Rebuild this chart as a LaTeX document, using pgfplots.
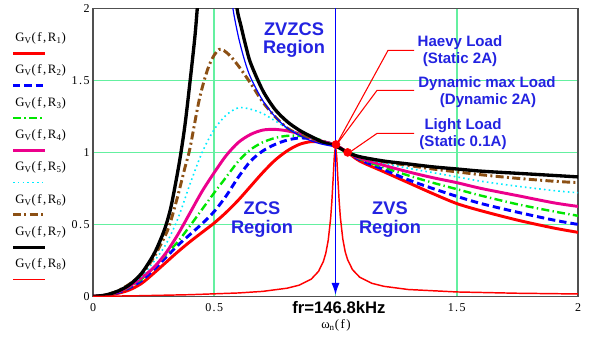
\documentclass[border=0pt]{standalone}
\usepackage{fontspec}
\setmainfont{Liberation Serif}
\setsansfont{Liberation Sans}
\newfontfamily\legfont{Liberation Serif}[LetterSpace=12]
\usepackage{pgfplots}
\pgfplotsset{compat=1.18}
\usetikzlibrary{arrows.meta}
\definecolor{gridg}{RGB}{100,240,160}
\definecolor{anblue}{RGB}{35,35,225}
\definecolor{brn}{RGB}{140,80,20}
\definecolor{cyn}{RGB}{0,235,255}
\definecolor{grn}{RGB}{0,230,0}
\tikzset{
 r1/.style={red, line width=2.2pt},
 r2/.style={blue, line width=2.2pt, dash pattern=on 5.5pt off 3pt},
 r3/.style={grn, line width=1.8pt, dash pattern=on 6pt off 2.5pt on 1pt off 2.5pt},
 r4/.style={magenta, line width=2.2pt},
 r5/.style={cyn, line width=1.2pt, dash pattern=on 1.2pt off 2.4pt},
 r6/.style={brn, line width=2.2pt, dash pattern=on 6pt off 2.5pt on 1.5pt off 2.5pt},
 r7/.style={black, line width=2.5pt},
 r8/.style={red, line width=1.1pt},
 ann/.style={anblue, font=\sffamily\bfseries\fontsize{11.3}{13}\selectfont, inner sep=0pt},
 reg/.style={anblue, font=\sffamily\bfseries\fontsize{13.7}{15}\selectfont, inner sep=0pt},
 leg/.style={font=\legfont\fontsize{9.6}{10}\selectfont, inner sep=0pt, anchor=west},
}
\begin{document}
\begin{tikzpicture}
\path (0,0) rectangle (441.75pt,252pt);
\begin{axis}[name=ax, at={(69.75pt,30pt)}, anchor=south west,
  scale only axis, width=363.75pt, height=216pt,
  xmin=0, xmax=2, ymin=0, ymax=2,
  xtick={0.5,1,1.5}, xticklabels={0.5,,1.5},
  extra x ticks={0,2}, extra x tick labels={0,2},
  ytick={0.5,1,1.5},
  extra y ticks={0,2}, extra y tick labels={0,2},
  extra tick style={grid=none},
  grid=major, major grid style={gridg, line width=1.2pt},
  major tick length=0pt,
  axis line style={draw={rgb,255:red,80;green,80;blue,80}, line width=0.8pt},
  tick label style={font=\legfont\fontsize{9}{10}\selectfont},
  /pgf/number format/assume math mode=true,
  xticklabel style={yshift=-2pt},
  yticklabel style={xshift=1pt},
]
% R1
\addplot[r1, smooth] coordinates {(0,0)(0.05,0.005)(0.1,0.02)(0.15,0.045)(0.2,0.09)(0.25,0.16)(0.3,0.235)(0.35,0.31)(0.4,0.38)(0.45,0.445)(0.5,0.51)(0.55,0.585)(0.6,0.67)(0.65,0.765)(0.7,0.86)(0.75,0.945)(0.8,1.01)(0.85,1.055)(0.9,1.075)(0.95,1.07)(1.0,1.05)(1.05,1.0)(1.1,0.94)(1.2,0.865)(1.3,0.79)(1.4,0.715)(1.5,0.645)(1.6,0.595)(1.75,0.53)(1.9,0.475)(2,0.445)};
% R2
\addplot[r2, smooth] coordinates {(0,0)(0.05,0.006)(0.1,0.025)(0.15,0.06)(0.2,0.11)(0.25,0.185)(0.3,0.27)(0.35,0.355)(0.4,0.43)(0.45,0.505)(0.5,0.59)(0.55,0.70)(0.6,0.83)(0.65,0.94)(0.7,1.01)(0.75,1.055)(0.8,1.085)(0.85,1.10)(0.9,1.095)(0.95,1.075)(1.0,1.05)(1.05,1.0)(1.1,0.95)(1.2,0.88)(1.3,0.81)(1.4,0.75)(1.5,0.695)(1.6,0.645)(1.75,0.585)(1.9,0.53)(2,0.5)};
% R3
\addplot[r3, smooth] coordinates {(0,0)(0.05,0.007)(0.1,0.028)(0.15,0.065)(0.2,0.12)(0.25,0.2)(0.3,0.29)(0.35,0.38)(0.4,0.49)(0.45,0.605)(0.5,0.72)(0.55,0.83)(0.6,0.94)(0.65,1.02)(0.7,1.07)(0.75,1.10)(0.8,1.115)(0.85,1.115)(0.9,1.105)(0.95,1.08)(1.0,1.05)(1.05,1.0)(1.1,0.955)(1.2,0.895)(1.3,0.84)(1.4,0.79)(1.5,0.745)(1.6,0.7)(1.75,0.64)(1.9,0.59)(2,0.56)};
% R4
\addplot[r4, smooth] coordinates {(0,0)(0.05,0.008)(0.1,0.03)(0.15,0.07)(0.2,0.13)(0.25,0.2)(0.3,0.3)(0.35,0.43)(0.4,0.58)(0.45,0.73)(0.5,0.86)(0.55,0.98)(0.6,1.07)(0.65,1.125)(0.7,1.155)(0.75,1.16)(0.8,1.15)(0.85,1.13)(0.9,1.1)(0.95,1.075)(1.0,1.05)(1.05,1.0)(1.1,0.96)(1.2,0.91)(1.3,0.865)(1.4,0.825)(1.5,0.79)(1.6,0.75)(1.75,0.70)(1.9,0.65)(2,0.625)};
% R5
\addplot[r5, smooth] coordinates {(0,0)(0.05,0.009)(0.1,0.035)(0.15,0.08)(0.2,0.14)(0.25,0.24)(0.3,0.36)(0.35,0.54)(0.4,0.78)(0.45,1.0)(0.5,1.16)(0.55,1.26)(0.6,1.31)(0.65,1.3)(0.7,1.27)(0.75,1.22)(0.8,1.17)(0.85,1.13)(0.9,1.1)(0.95,1.07)(1.0,1.05)(1.05,1.0)(1.1,0.965)(1.2,0.925)(1.3,0.89)(1.4,0.86)(1.5,0.83)(1.6,0.80)(1.75,0.765)(1.9,0.735)(2,0.72)};
% R6
\addplot[r6, smooth] coordinates {(0,0)(0.05,0.009)(0.1,0.037)(0.15,0.085)(0.2,0.155)(0.25,0.27)(0.3,0.43)(0.32,0.52)(0.35,0.7)(0.38,0.9)(0.4,1.03)(0.44,1.38)(0.48,1.61)(0.52,1.715)(0.56,1.68)(0.6,1.6)(0.65,1.48)(0.7,1.35)(0.75,1.25)(0.8,1.17)(0.85,1.125)(0.9,1.09)(0.95,1.065)(1.0,1.045)(1.05,1.0)(1.1,0.97)(1.2,0.935)(1.3,0.91)(1.4,0.885)(1.5,0.865)(1.6,0.845)(1.75,0.82)(1.9,0.80)(2,0.79)};
% R7
\addplot[r7, smooth] coordinates {(0,0)(0.05,0.009)(0.1,0.035)(0.15,0.08)(0.2,0.16)(0.25,0.29)(0.28,0.4)(0.3,0.49)(0.32,0.61)(0.34,0.78)(0.36,0.97)(0.38,1.2)(0.40,1.49)(0.42,1.8)(0.43,2.0)(0.44,2.2)(0.45,2.45)};
\addplot[r7, smooth] coordinates {(0.575,2.3)(0.594,2.0)(0.61,1.88)(0.63,1.74)(0.65,1.62)(0.7,1.43)(0.75,1.30)(0.8,1.215)(0.85,1.155)(0.9,1.11)(0.95,1.07)(1.0,1.045)(1.05,1.0)(1.1,0.97)(1.2,0.94)(1.3,0.92)(1.4,0.9)(1.5,0.885)(1.6,0.87)(1.75,0.855)(1.9,0.84)(2,0.83)};
% R8
\addplot[r8] coordinates {(0,0.0)(0.2,0.005)(0.4,0.012)(0.6,0.024)(0.7,0.035)(0.8,0.057)(0.85,0.078)(0.9,0.12)(0.93,0.174)(0.95,0.243)(0.96,0.30)(0.97,0.39)(0.98,0.543)(0.985,0.66)(0.99,0.81)(0.995,0.97)(1.0,1.05)(1.005,0.97)(1.01,0.81)(1.015,0.665)(1.02,0.55)(1.03,0.40)(1.04,0.31)(1.05,0.255)(1.07,0.186)(1.1,0.133)(1.15,0.091)(1.2,0.070)(1.3,0.048)(1.5,0.031)(1.75,0.022)(2,0.017)};
% boundary
\addplot[blue, line width=0.9pt, smooth] coordinates {(0.565,2.2)(0.577,2.0)(0.6,1.8)(0.625,1.64)(0.65,1.52)(0.7,1.36)(0.75,1.25)(0.8,1.17)(0.85,1.12)(0.9,1.08)(0.95,1.055)(1.0,1.04)};
% resonance line
\addplot[blue, line width=1.1pt, -{Latex[length=9pt,width=6pt]}] coordinates {(1,2)(1,0.01)};
% operating points
\addplot[only marks, mark=*, red, mark size=3pt] coordinates {(1.002,1.055)(1.05,1.0)};
\end{axis}
\begin{scope}[x=0.75pt, y=-0.75pt, yshift=252pt]
% legend
\foreach \i/\st in {1/r1,2/r2,3/r3,4/r4,5/r5,6/r6,7/r7,8/r8}{
  \node[leg] at (15, {38+(\i-1)*32.3}) {G\textsubscript{V}(f,R\textsubscript{\i})};
  \draw[\st] (13, {53+(\i-1)*32.3}) -- (45, {53+(\i-1)*32.3});
}
% annotation lines
\draw[red, line width=0.8pt] (336,145) -- (388,50) -- (414,50);
\draw[red, line width=0.8pt] (336,145) -- (377,90) -- (414,90);
\draw[red, line width=0.8pt] (348,153) -- (377,133) -- (414,133);
\node[ann] at (460,42) {Haevy Load};
\node[ann] at (460,59) {(Static 2A)};
\node[ann] at (487,83) {Dynamic max Load};
\node[ann] at (488,100) {(Dynamic 2A)};
\node[ann] at (463,125) {Light Load};
\node[ann] at (463,142) {(Static 0.1A)};
\node[reg] at (294,29) {ZVZCS};
\node[reg] at (294,48) {Region};
\node[reg] at (262,208) {ZCS};
\node[reg] at (262,228) {Region};
\node[reg] at (390,208) {ZVS};
\node[reg] at (390,228) {Region};
\node[font=\sffamily\bfseries\fontsize{12.5}{14}\selectfont, inner sep=0pt] at (339,307) {fr=146.8kHz};
\node[font=\legfont\fontsize{9.6}{10}\selectfont, inner sep=0pt] at (336,325) {ω\textsubscript{n}(f)};
\end{scope}
\end{tikzpicture}
\end{document}
